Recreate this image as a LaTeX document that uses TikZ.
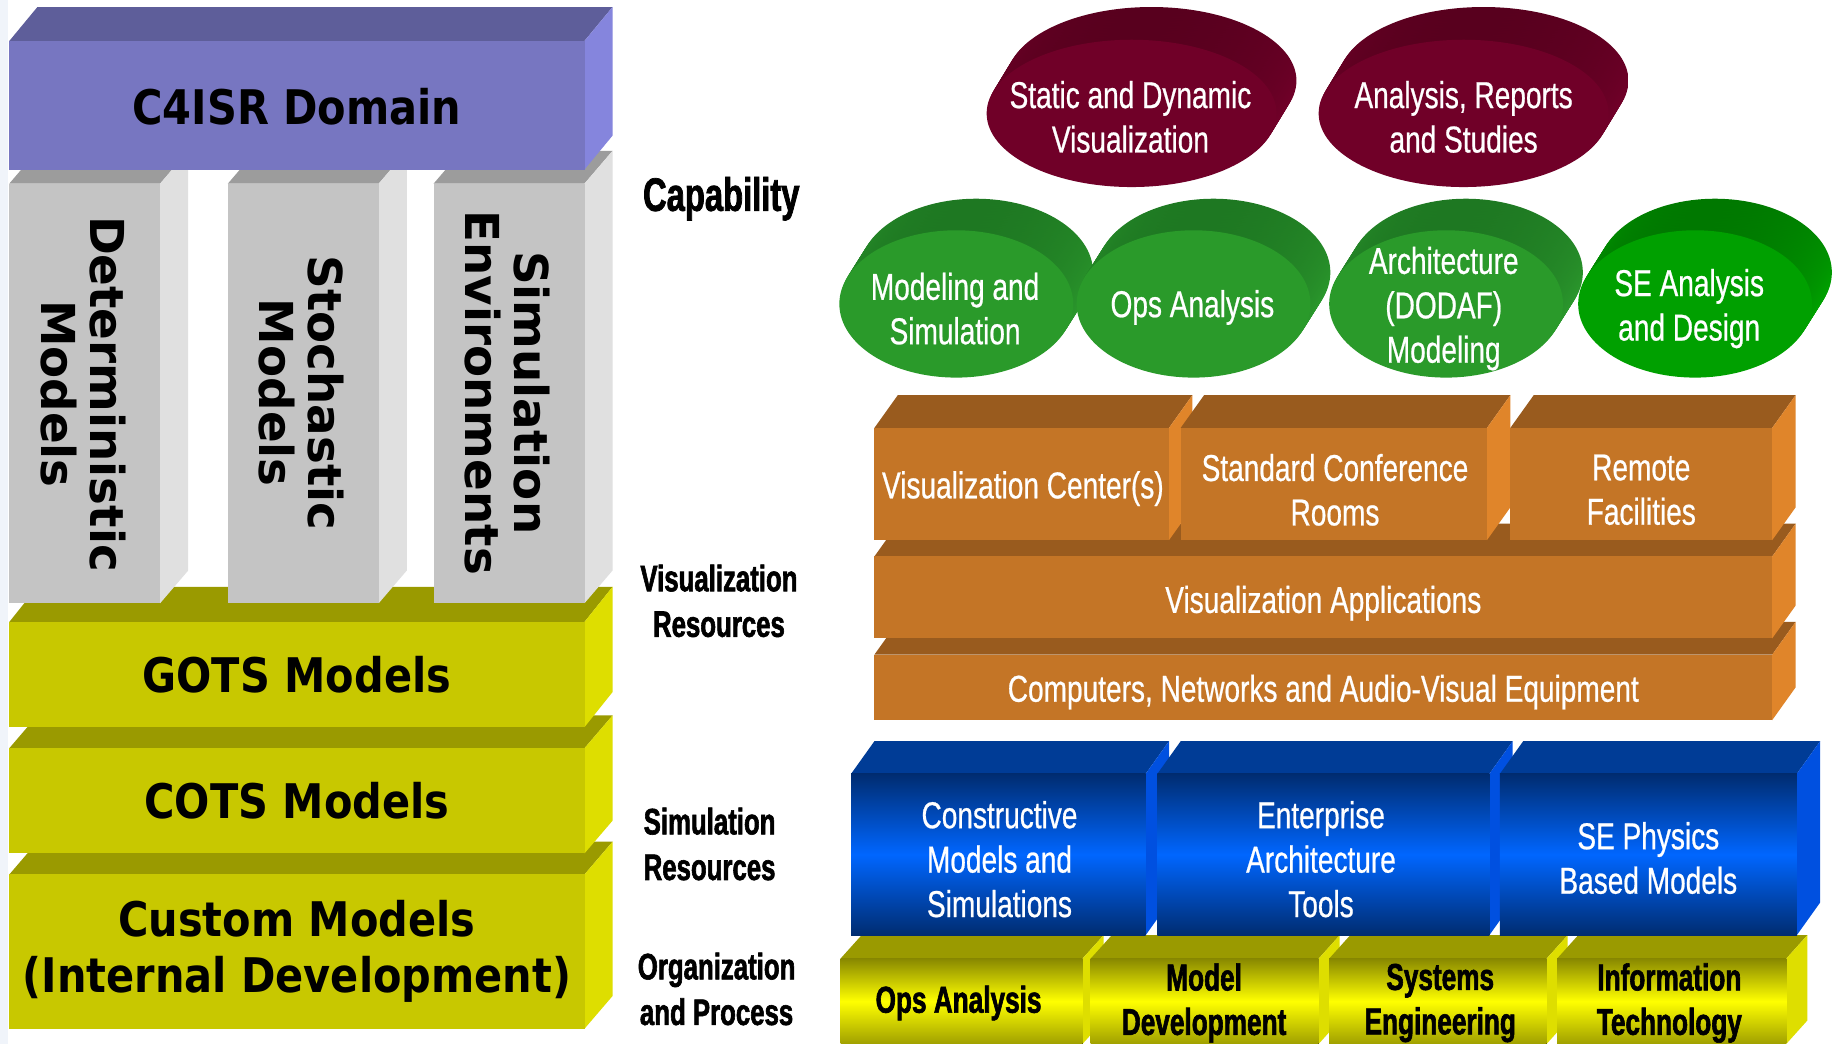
\documentclass[tikz,border=0pt]{standalone}
\usepackage{fontspec}
\newfontfamily\lfont[FakeStretch=0.87]{DejaVu Sans}
\newfontfamily\pfont{DejaVu Sans}
\newfontfamily\nfont[FakeStretch=0.75,FakeBold=0.6]{Liberation Sans}
\newfontfamily\hfont[FakeStretch=0.70,FakeBold=1.6]{Liberation Sans}
\definecolor{pfront}{RGB}{119,118,193}
\definecolor{ptop}{RGB}{94,94,154}
\definecolor{pside}{RGB}{133,133,221}
\definecolor{gfront}{RGB}{196,196,196}
\definecolor{gtop}{RGB}{156,156,156}
\definecolor{gside}{RGB}{224,224,224}
\definecolor{yfront}{RGB}{200,200,0}
\definecolor{ytop}{RGB}{154,154,0}
\definecolor{yside}{RGB}{222,222,0}
\definecolor{ofront}{RGB}{196,117,38}
\definecolor{otop}{RGB}{153,91,30}
\definecolor{oside}{RGB}{224,133,42}
\definecolor{bdark}{RGB}{0,44,112}
\definecolor{bbright}{RGB}{0,102,255}
\definecolor{btop}{RGB}{0,60,150}
\definecolor{bside}{RGB}{0,80,224}
\definecolor{ydark}{RGB}{136,136,0}
\definecolor{ybright}{RGB}{255,255,0}
\definecolor{mfront}{RGB}{112,0,40}
\definecolor{mback}{RGB}{88,0,30}
\definecolor{mlight}{RGB}{130,0,48}
\definecolor{grfront}{RGB}{42,154,42}
\definecolor{grback}{RGB}{30,120,34}
\definecolor{grlight}{RGB}{50,170,50}
\definecolor{gqfront}{RGB}{0,160,0}
\definecolor{gqback}{RGB}{0,120,0}
\definecolor{gqlight}{RGB}{0,186,0}
\definecolor{edgebg}{RGB}{240,244,250}
% 3D block: x1 y1 x2 y2 dx dy front top side
\newcommand{\blk}[9]{%
  \fill[#8] (#1,#2) -- (#1+#5,#2-#6) -- (#3+#5,#2-#6) -- (#3,#2) -- cycle;
  \fill[#9] (#3,#2) -- (#3+#5,#2-#6) -- (#3+#5,#4-#6) -- (#3,#4) -- cycle;
  \fill[#7] (#1,#2) rectangle (#3,#4);}
% disc: cx cy rx ry dx dy front backtop backbottom
\newcommand{\disc}[9]{%
  \foreach \t in {1,0.95,...,0.04}{\shade[top color=#8,bottom color=#9] (#1+\t*#5,#2-\t*#6) ellipse [x radius=#3, y radius=#4];}
  \fill[#7] (#1,#2) ellipse [x radius=#3, y radius=#4];}
\tikzset{
  lefttxt/.style={font=\lfont\bfseries\fontsize{20.4}{24}\selectfont, text=black, align=center, inner sep=0pt},
  piltxt/.style={font=\pfont\bfseries\fontsize{20}{21}\selectfont, text=black, align=center, inner sep=0pt, rotate=-90},
  whitetxt/.style={font=\nfont\fontsize{16}{19}\selectfont, text=white, align=center, inner sep=0pt},
  blacktxt/.style={font=\hfont\bfseries\fontsize{16}{19}\selectfont, text=black, align=center, inner sep=0pt},
  labtxt/.style={font=\hfont\bfseries\fontsize{15.75}{19.5}\selectfont, text=black, align=center, inner sep=0pt},
  captxt/.style={font=\hfont\bfseries\fontsize{20}{24}\selectfont, text=black, align=center, inner sep=0pt}
}
\begin{document}
\begin{tikzpicture}[x=0.5pt,y=-0.5pt]
\useasboundingbox (0,0) rectangle (1568,893);
\fill[white] (0,0) rectangle (1568,893);
\fill[edgebg] (0,0) rectangle (7,893);
% ---------------- left column ----------------
\blk{8}{748}{500}{880}{24}{28}{yfront}{ytop}{yside}
\blk{8}{640}{500}{730}{24}{28}{yfront}{ytop}{yside}
\blk{8}{532}{500}{622}{24}{30}{yfront}{ytop}{yside}
\blk{8}{157}{137}{516}{24}{28}{gfront}{gtop}{gside}
\blk{195}{157}{324}{516}{24}{28}{gfront}{gtop}{gside}
\blk{371}{157}{500}{516}{24}{28}{gfront}{gtop}{gside}
\blk{8}{35}{500}{145}{24}{29}{pfront}{ptop}{pside}
\node[lefttxt] (c4) at (254,91) {C4ISR Domain};
\node[piltxt] (det) at (71,337) {Deterministic\\Models};
\node[piltxt] (sto) at (258,336) {Stochastic\\Models};
\node[piltxt] (sim) at (434,336) {Simulation\\Environments};
\node[lefttxt] (gots) at (254,577) {GOTS Models};
\node[lefttxt] (cots) at (254,685) {COTS Models};
\node[lefttxt] (cust) at (254,814) {Custom Models\\(Internal Development)};
% ---------------- middle labels ----------------
\node[captxt] (cap) at (617,170) {Capability};
\node[labtxt] (visres) at (615,514) {Visualization\\Resources};
\node[labtxt] (simres) at (607,722) {Simulation\\Resources};
\node[labtxt] (orgp) at (613,846) {Organization\\and Process};
% ---------------- capability discs ----------------
\disc{968}{97}{124}{63}{17}{28}{mfront}{mback}{mlight}
\disc{1252}{97}{124}{63}{17}{28}{mfront}{mback}{mlight}
\disc{818}{260}{100}{63}{17}{27}{grfront}{grback}{grlight}
\disc{1021}{260}{100}{63}{17}{27}{grfront}{grback}{grlight}
\disc{1237}{260}{100}{63}{17}{27}{grfront}{grback}{grlight}
\disc{1450}{260}{100}{63}{17}{27}{gqfront}{gqback}{gqlight}
\node[whitetxt] (sdv) at (967,100) {Static and Dynamic\\Visualization};
\node[whitetxt] (ars) at (1252,100) {Analysis, Reports\\and Studies};
\node[whitetxt] (ms) at (817,264) {Modeling and\\Simulation};
\node[whitetxt] (ops1) at (1020,263) {Ops Analysis};
\node[whitetxt] (arch) at (1235,264) {Architecture\\(DODAF)\\Modeling};
\node[whitetxt] (sead) at (1445,264) {SE Analysis\\and Design};
% ---------------- visualization resources ----------------
\blk{748}{560}{1516}{616}{20}{28}{ofront}{otop}{oside}
\blk{748}{476}{1516}{546}{20}{28}{ofront}{otop}{oside}
\blk{748}{366}{1000}{462}{20}{28}{ofront}{otop}{oside}
\blk{1010}{366}{1272}{462}{20}{28}{ofront}{otop}{oside}
\blk{1292}{366}{1516}{462}{20}{28}{ofront}{otop}{oside}
\node[whitetxt] (vcent) at (875,418) {Visualization Center(s)};
\node[whitetxt] (scr) at (1142,419) {Standard Conference\\Rooms};
\node[whitetxt] (rf) at (1404,419) {Remote\\Facilities};
\node[whitetxt] (vapp) at (1132,516) {Visualization Applications};
\node[whitetxt] (cnav) at (1132,592) {Computers, Networks and Audio-Visual Equipment};
% ---------------- organization and process ----------------
\blk{719}{820}{926}{893}{18}{20}{top color=ydark,bottom color=ydark!80!ybright,middle color=ybright}{ytop}{yside}
\blk{933}{820}{1128}{893}{18}{20}{top color=ydark,bottom color=ydark!80!ybright,middle color=ybright}{ytop}{yside}
\blk{1137}{820}{1323}{893}{18}{20}{top color=ydark,bottom color=ydark!80!ybright,middle color=ybright}{ytop}{yside}
\blk{1332}{820}{1528}{893}{18}{20}{top color=ydark,bottom color=ydark!80!ybright,middle color=ybright}{ytop}{yside}
% ---------------- simulation resources ----------------
\blk{728}{662}{980}{800}{20}{28}{top color=bdark,bottom color=bdark,middle color=bbright}{btop}{bside}
\blk{990}{662}{1274}{800}{20}{28}{top color=bdark,bottom color=bdark,middle color=bbright}{btop}{bside}
\blk{1283}{662}{1537}{800}{20}{28}{top color=bdark,bottom color=bdark,middle color=bbright}{btop}{bside}
\node[whitetxt] (cms) at (855,735) {Constructive\\Models and\\Simulations};
\node[whitetxt] (eat) at (1130,735) {Enterprise\\Architecture\\Tools};
\node[whitetxt] (sep) at (1410,734) {SE Physics\\Based Models};
\node[blacktxt] (ops2) at (820,858) {Ops Analysis};
\node[blacktxt] (mdev) at (1030,858) {Model\\Development};
\node[blacktxt] (syse) at (1232,858) {Systems\\Engineering};
\node[blacktxt] (itec) at (1428,858) {Information\\Technology};
\end{tikzpicture}
\end{document}
